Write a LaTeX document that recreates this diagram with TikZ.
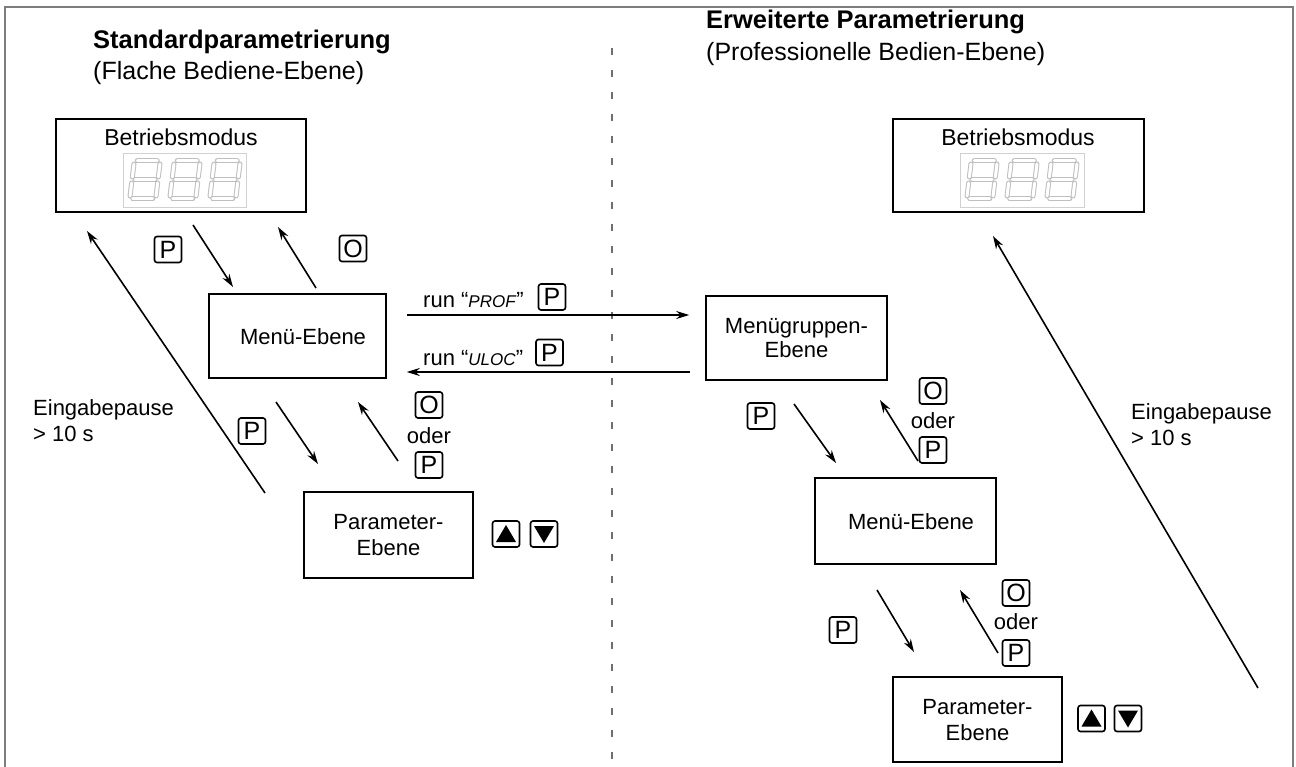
\documentclass[tikz,border=0pt]{standalone}
\usepackage{fontspec}
\setmainfont{Liberation Sans}
\usetikzlibrary{arrows.meta}
\tikzset{
  box/.style={draw, line width=1.6pt, inner sep=0pt},
  lbl/.style={font=\fontsize{22}{25}\selectfont, align=center, inner sep=0pt},
  key/.style={draw, line width=1.6pt, rounded corners=2.5pt, minimum width=27pt, minimum height=26pt, inner sep=0pt, font=\fontsize{25}{25}\selectfont},
  arr/.style={line width=1.6pt, -{Stealth[length=13pt,width=8pt]}},
  segline/.style={draw=black!25, double=white, double distance=3pt, line width=1pt, line cap=round},
  seg8/.pic={
    \begin{scope}[xslant=0.12]
      \path[segline] (-10,-19) -- (10,-19);
      \path[segline] (-10,0) -- (10,0);
      \path[segline] (-10,19) -- (10,19);
      \path[segline] (-13,-16) -- (-13,-3);
      \path[segline] (13,-16) -- (13,-3);
      \path[segline] (-13,3) -- (-13,16);
      \path[segline] (13,3) -- (13,16);
    \end{scope}
  }
}
\begin{document}
\begin{tikzpicture}[x=1pt,y=-1pt]
\useasboundingbox[fill=white] (0,0) rectangle (1296,767);
% frame
\draw[line width=2.6pt, color={rgb,255:red,125;green,125;blue,125}] (5,767) -- (5,7) -- (1293,7) -- (1293,767);
% divider
\draw[color={rgb,255:red,110;green,110;blue,110}, line width=2.2pt, dash pattern=on 7pt off 15pt] (612,48) -- (612,767);

% titles
\node[anchor=base west, inner sep=0pt, font=\fontsize{25.5}{28}\selectfont\bfseries] (t1) at (93,49) {Standardparametrierung};
\node[anchor=base west, inner sep=0pt, font=\fontsize{25}{28}\selectfont] (s1) at (93,80) {(Flache Bediene-Ebene)};
\node[anchor=base west, inner sep=0pt, font=\fontsize{25.5}{28}\selectfont\bfseries] (t2) at (706,29) {Erweiterte Parametrierung};
\node[anchor=base west, inner sep=0pt, font=\fontsize{25}{28}\selectfont] (s2) at (706,61) {(Professionelle Bedien-Ebene)};

% Betriebsmodus left
\node[box, minimum width=250pt, minimum height=93pt] (bm1) at (181,165.5) {};
\node[lbl, font=\fontsize{23}{25}\selectfont] (bm1t) at (181,137) {Betriebsmodus};
\draw[black!18, line width=0.8pt] (123,153) rectangle (246,207);
\pic at (145,180) {seg8};
\pic at (185,180) {seg8};
\pic at (225,180) {seg8};

% Betriebsmodus right
\node[box, minimum width=251pt, minimum height=93pt] (bm2) at (1018.5,165.5) {};
\node[lbl, font=\fontsize{23}{25}\selectfont] (bm2t) at (1018,137) {Betriebsmodus};
\draw[black!18, line width=0.8pt] (960,153) rectangle (1084,207);
\pic at (982,180) {seg8};
\pic at (1022,180) {seg8};
\pic at (1062,180) {seg8};

% left boxes
\node[box, minimum width=177pt, minimum height=84pt] (menu1) at (297.5,336) {};
\node[lbl] (menu1t) at (303,337) {Menü-Ebene};
\node[box, minimum width=169pt, minimum height=86pt] (par1) at (388.5,535) {};
\node[lbl] (par1t) at (388.5,535) {Parameter-\\[1pt]Ebene};

% right boxes
\node[box, minimum width=181pt, minimum height=84pt] (grp) at (796.5,338) {};
\node[lbl] (grpt) at (796.5,338) {Menügruppen-\\[-1pt]Ebene};
\node[box, minimum width=181pt, minimum height=86pt] (menu2) at (905.5,521) {};
\node[lbl] (menu2t) at (911,522) {Menü-Ebene};
\node[box, minimum width=169pt, minimum height=85pt] (par2) at (977.5,719.5) {};
\node[lbl] (par2t) at (977.5,720) {Parameter-\\[1pt]Ebene};

% keys left
\node[key] (kP1) at (168,249.5) {P};
\node[key] (kO1) at (353,248.5) {O};
\node[key] (kP2) at (252,431) {P};
\node[key] (kO2) at (429,405) {O};
\node[lbl] (oder1) at (429,436) {oder};
\node[key] (kP3) at (429,465) {P};
\node[key] (kPa) at (552,297) {P};
\node[key] (kPb) at (549.5,352.5) {P};
\node[key] (up1) at (506,534) {};
\node[key] (dn1) at (544,534) {};
\fill ([shift={(-10,8)}]up1.center) -- ([shift={(10,8)}]up1.center) -- ([shift={(0,-9)}]up1.center) -- cycle;
\fill ([shift={(-10,-8)}]dn1.center) -- ([shift={(10,-8)}]dn1.center) -- ([shift={(0,9)}]dn1.center) -- cycle;

% keys right
\node[key] (kP4) at (761,416) {P};
\node[key] (kO3) at (933,391) {O};
\node[lbl] (oder2) at (933,421) {oder};
\node[key] (kP5) at (933,450) {P};
\node[key] (kP6) at (843,630) {P};
\node[key] (kO4) at (1016,593) {O};
\node[lbl] (oder3) at (1016,622) {oder};
\node[key] (kP7) at (1016,653) {P};
\node[key] (up2) at (1091.5,718.5) {};
\node[key] (dn2) at (1128,718.5) {};
\fill ([shift={(-10,8)}]up2.center) -- ([shift={(10,8)}]up2.center) -- ([shift={(0,-9)}]up2.center) -- cycle;
\fill ([shift={(-10,-8)}]dn2.center) -- ([shift={(10,-8)}]dn2.center) -- ([shift={(0,9)}]dn2.center) -- cycle;

% run labels
\node[anchor=base west, inner sep=0pt, font=\fontsize{22}{24}\selectfont] (run1) at (423,308) {run \char"201C\textit{\fontsize{17}{20}\selectfont PROF}\char"201D};
\node[anchor=base west, inner sep=0pt, font=\fontsize{22}{24}\selectfont] (run2) at (423,366) {run \char"201C\textit{\fontsize{17}{20}\selectfont ULOC}\char"201D};

% Eingabepause
\node[anchor=west, lbl, align=left] (ep1) at (33,421) {Eingabepause\\[1pt]> 10 s};
\node[anchor=west, lbl, align=left] (ep2) at (1131,425) {Eingabepause\\[1pt]> 10 s};

% coordinates for arrows
\coordinate (a1s) at (265,493); \coordinate (a1e) at (87,231);
\coordinate (a2s) at (193,225); \coordinate (a2e) at (233,287);
\coordinate (a3s) at (316,288); \coordinate (a3e) at (278,227);
\coordinate (a4s) at (276,402); \coordinate (a4e) at (318,464);
\coordinate (a5s) at (398,461); \coordinate (a5e) at (358,402);
\coordinate (h1s) at (406,315); \coordinate (h1e) at (grp.west |- 0,315);
\coordinate (h2s) at (690,372); \coordinate (h2e) at (menu1.east |- 0,372);
\coordinate (a6s) at (1258,688); \coordinate (a6e) at (993,236);
\coordinate (a7s) at (794,404); \coordinate (a7e) at (836,463);
\coordinate (a8s) at (918,461); \coordinate (a8e) at (880,400);
\coordinate (a9s) at (877,590); \coordinate (a9e) at (914,652);
\coordinate (a10s) at (998,653); \coordinate (a10e) at (960,590);

\draw[arr] (a1s) -- (a1e);
\draw[arr] (a2s) -- (a2e);
\draw[arr] (a3s) -- (a3e);
\draw[arr] (a4s) -- (a4e);
\draw[arr] (a5s) -- (a5e);
\draw[arr] ([xshift=20pt]menu1.east |- h1s) -- ([xshift=-16pt]h1e);
\draw[arr] (h2s) -- ([xshift=20pt]h2e);
\draw[arr] (a6s) -- (a6e);
\draw[arr] (a7s) -- (a7e);
\draw[arr] (a8s) -- (a8e);
\draw[arr] (a9s) -- (a9e);
\draw[arr] (a10s) -- (a10e);
\end{tikzpicture}
\end{document}
